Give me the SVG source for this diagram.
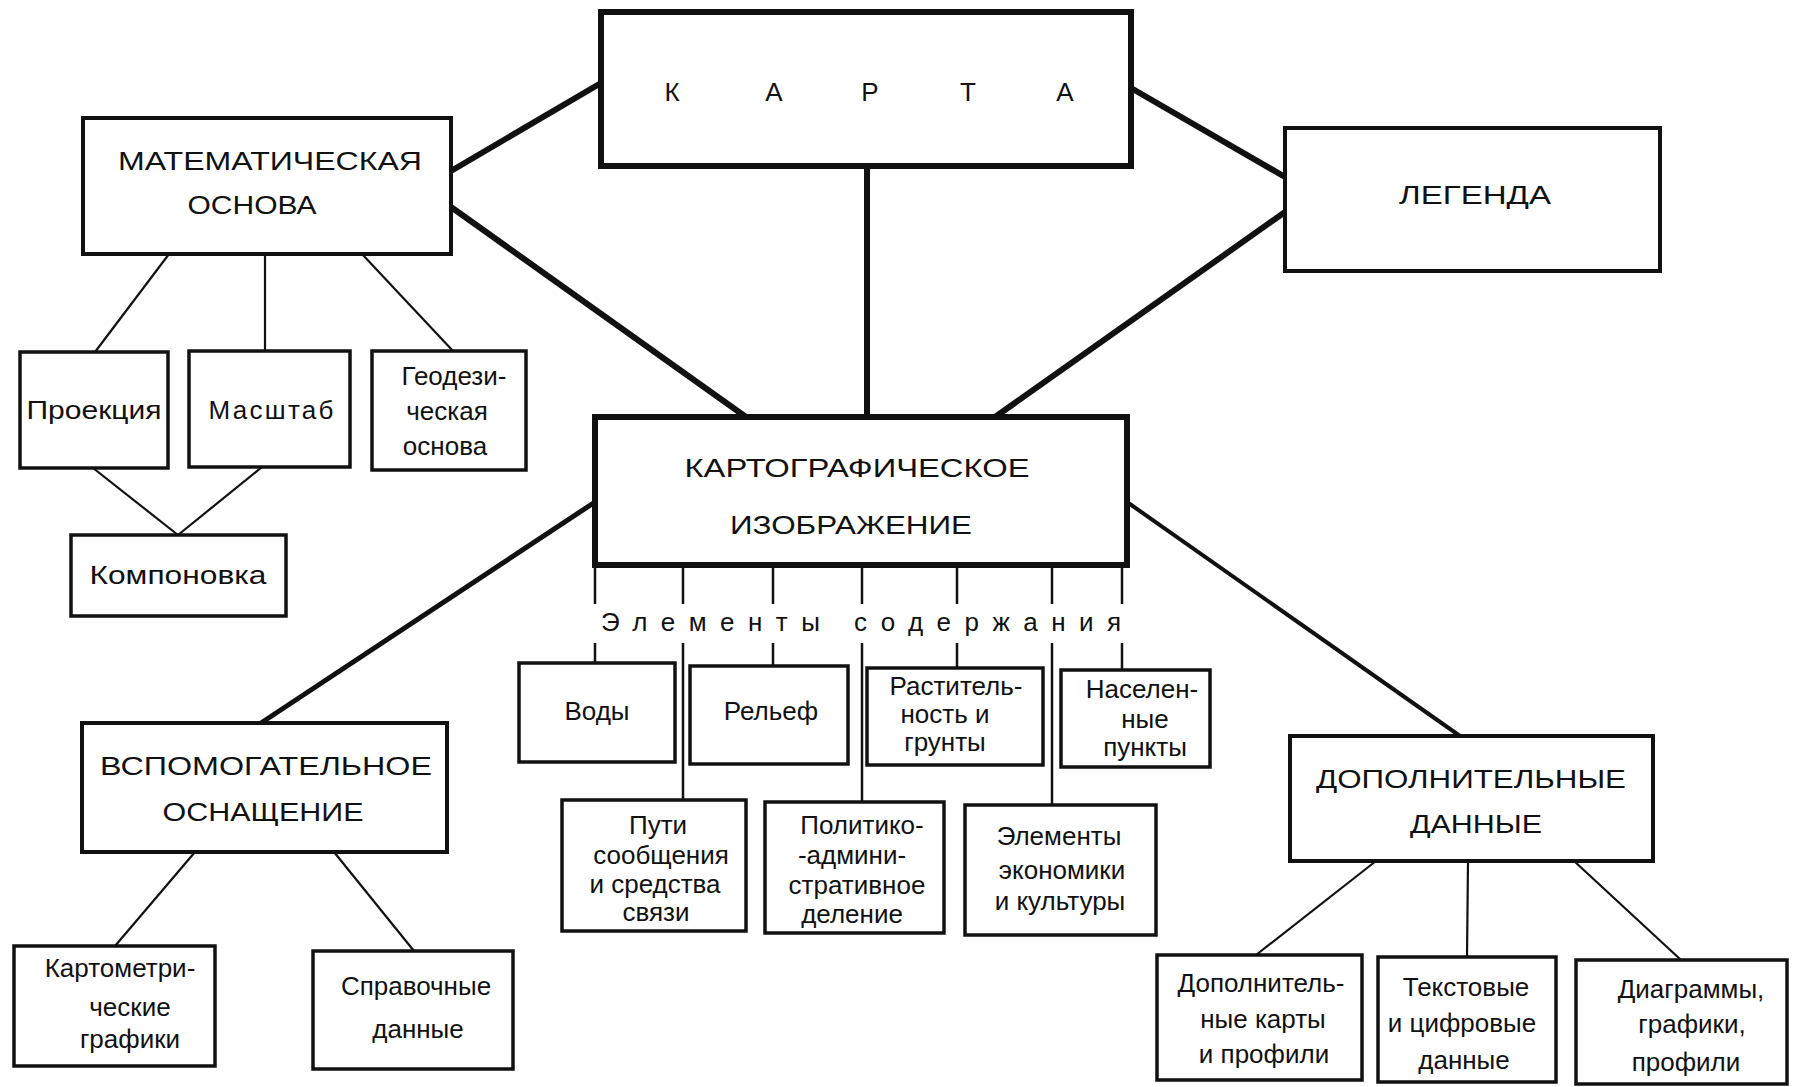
<svg xmlns="http://www.w3.org/2000/svg" width="1800" height="1087" viewBox="0 0 1800 1087">
<style>
.box{fill:#fff;stroke:#111;stroke-width:3.5}
.heavy{stroke-width:6}
.mid{stroke-width:4}
.c{stroke:#111;fill:none;stroke-linecap:butt}
.thick{stroke-width:6}
.thin{stroke-width:2.2}
.tick{stroke-width:2.5}
text{font-family:"Liberation Sans",Arial,sans-serif;font-size:26px;fill:#111;text-anchor:middle}
.cap{font-size:26px}
</style>
<rect width="1800" height="1087" fill="#fff"/>
<g id="connectors">
<line class="c thick" x1="451" y1="171" x2="601" y2="83"/>
<line class="c thick" x1="451" y1="207" x2="746" y2="417"/>
<line class="c thick" x1="867" y1="166" x2="867" y2="417"/>
<line class="c thick" x1="1131" y1="88" x2="1285" y2="177"/>
<line class="c thick" x1="1285" y1="212" x2="995" y2="417"/>
<line class="c" stroke-width="5" x1="595" y1="502" x2="261" y2="723"/>
<line class="c mid" x1="1127" y1="502" x2="1460" y2="736"/>
<line class="c thin" x1="169" y1="254" x2="95" y2="352"/>
<line class="c thin" x1="265" y1="254" x2="265" y2="351"/>
<line class="c thin" x1="362" y1="254" x2="453" y2="351"/>
<line class="c thin" x1="93" y1="468" x2="178" y2="535"/>
<line class="c thin" x1="262" y1="467" x2="178" y2="535"/>
<line class="c thin" x1="195" y1="852" x2="115" y2="946"/>
<line class="c thin" x1="334" y1="852" x2="414" y2="951"/>
<line class="c thin" x1="1376" y1="861" x2="1256" y2="955"/>
<line class="c thin" x1="1468" y1="861" x2="1467" y2="957"/>
<line class="c thin" x1="1574" y1="861" x2="1681" y2="960"/>
<g class="c tick">
<line x1="595" y1="564" x2="595" y2="604"/><line x1="595" y1="643" x2="595" y2="663"/>
<line x1="683" y1="564" x2="683" y2="604"/><line x1="683" y1="643" x2="683" y2="800"/>
<line x1="773" y1="564" x2="773" y2="604"/><line x1="773" y1="643" x2="773" y2="666"/>
<line x1="862" y1="564" x2="862" y2="604"/><line x1="862" y1="643" x2="862" y2="802"/>
<line x1="957" y1="564" x2="957" y2="604"/><line x1="957" y1="643" x2="957" y2="668"/>
<line x1="1052" y1="564" x2="1052" y2="604"/><line x1="1052" y1="643" x2="1052" y2="805"/>
<line x1="1122" y1="564" x2="1122" y2="604"/><line x1="1122" y1="643" x2="1122" y2="670"/>
</g>
<text x="601" y="631" style="text-anchor:start" textLength="520" lengthAdjust="spacing">Элементы содержания</text>
</g>
<g id="karta">
<rect class="box heavy" x="601" y="12" width="530" height="154"/>
<text x="672 774 870 968 1065" y="101" font-size="24">КАРТА</text>
</g>
<g id="matematicheskaya-osnova">
<rect class="box mid" x="83" y="118" width="368" height="136"/>
<text class="cap" x="270" y="170" textLength="304" lengthAdjust="spacingAndGlyphs">МАТЕМАТИЧЕСКАЯ</text>
<text class="cap" x="252" y="214" textLength="129" lengthAdjust="spacingAndGlyphs">ОСНОВА</text>
</g>
<g id="legenda">
<rect class="box mid" x="1285" y="128" width="375" height="143"/>
<text class="cap" x="1475" y="204" textLength="152" lengthAdjust="spacingAndGlyphs">ЛЕГЕНДА</text>
</g>
<g id="kartograficheskoe-izobrazhenie">
<rect class="box heavy" x="595" y="417" width="532" height="148"/>
<text class="cap" x="857" y="477" textLength="345" lengthAdjust="spacingAndGlyphs">КАРТОГРАФИЧЕСКОЕ</text>
<text class="cap" x="851" y="534" textLength="242" lengthAdjust="spacingAndGlyphs">ИЗОБРАЖЕНИЕ</text>
</g>
<g id="proekciya">
<rect class="box" x="20" y="352" width="148" height="116"/>
<text x="94" y="419" textLength="135" lengthAdjust="spacingAndGlyphs">Проекция</text>
</g>
<g id="masshtab">
<rect class="box" x="189" y="351" width="161" height="116"/>
<text x="271" y="419" textLength="125" lengthAdjust="spacing">Масштаб</text>
</g>
<g id="geodezicheskaya-osnova">
<rect class="box" x="372" y="351" width="154" height="119"/>
<text x="454" y="385">Геодези-</text>
<text x="447" y="420">ческая</text>
<text x="445" y="455">основа</text>
</g>
<g id="komponovka">
<rect class="box" x="71" y="535" width="215" height="81"/>
<text x="178" y="584" textLength="177" lengthAdjust="spacingAndGlyphs">Компоновка</text>
</g>
<g id="vspomogatelnoe-osnashchenie">
<rect class="box mid" x="82" y="723" width="365" height="129"/>
<text class="cap" x="266" y="775" textLength="332" lengthAdjust="spacingAndGlyphs">ВСПОМОГАТЕЛЬНОЕ</text>
<text class="cap" x="263" y="821" textLength="201" lengthAdjust="spacingAndGlyphs">ОСНАЩЕНИЕ</text>
</g>
<g id="kartometricheskie-grafiki">
<rect class="box" x="14" y="946" width="201" height="120"/>
<text x="120" y="977">Картометри-</text>
<text x="130" y="1016">ческие</text>
<text x="130" y="1048">графики</text>
</g>
<g id="spravochnye-dannye">
<rect class="box" x="313" y="951" width="200" height="118"/>
<text x="416" y="995">Справочные</text>
<text x="418" y="1038">данные</text>
</g>
<g id="vody">
<rect class="box" x="519" y="663" width="156" height="99"/>
<text x="597" y="720">Воды</text>
</g>
<g id="relef">
<rect class="box" x="690" y="666" width="158" height="98"/>
<text x="771" y="720">Рельеф</text>
</g>
<g id="rastitelnost">
<rect class="box" x="867" y="668" width="176" height="97"/>
<text x="956" y="695">Раститель-</text>
<text x="945" y="723">ность и</text>
<text x="945" y="751">грунты</text>
</g>
<g id="naselennye-punkty">
<rect class="box" x="1061" y="670" width="149" height="97"/>
<text x="1142" y="698">Населен-</text>
<text x="1145" y="728">ные</text>
<text x="1145" y="756">пункты</text>
</g>
<g id="puti-soobshcheniya">
<rect class="box" x="562" y="800" width="184" height="131"/>
<text x="658" y="834">Пути</text>
<text x="661" y="864">сообщения</text>
<text x="655" y="893">и средства</text>
<text x="656" y="921">связи</text>
</g>
<g id="politiko-administrativnoe">
<rect class="box" x="765" y="802" width="179" height="131"/>
<text x="862" y="834">Политико-</text>
<text x="852" y="864">-админи-</text>
<text x="857" y="894">стративное</text>
<text x="852" y="923">деление</text>
</g>
<g id="elementy-ekonomiki">
<rect class="box" x="965" y="805" width="191" height="130"/>
<text x="1059" y="845">Элементы</text>
<text x="1062" y="879">экономики</text>
<text x="1060" y="910">и культуры</text>
</g>
<g id="dopolnitelnye-dannye">
<rect class="box mid" x="1290" y="736" width="363" height="125"/>
<text class="cap" x="1471" y="788" textLength="310" lengthAdjust="spacingAndGlyphs">ДОПОЛНИТЕЛЬНЫЕ</text>
<text class="cap" x="1476" y="833" textLength="132" lengthAdjust="spacingAndGlyphs">ДАННЫЕ</text>
</g>
<g id="dopolnitelnye-karty">
<rect class="box" x="1157" y="955" width="205" height="125"/>
<text x="1261" y="992">Дополнитель-</text>
<text x="1263" y="1028">ные карты</text>
<text x="1264" y="1063">и профили</text>
</g>
<g id="tekstovye-dannye">
<rect class="box" x="1378" y="957" width="178" height="125"/>
<text x="1466" y="996">Текстовые</text>
<text x="1462" y="1032">и цифровые</text>
<text x="1464" y="1069">данные</text>
</g>
<g id="diagrammy">
<rect class="box" x="1576" y="960" width="211" height="124"/>
<text x="1691" y="998">Диаграммы,</text>
<text x="1692" y="1033">графики,</text>
<text x="1686" y="1071">профили</text>
</g>
</svg>
